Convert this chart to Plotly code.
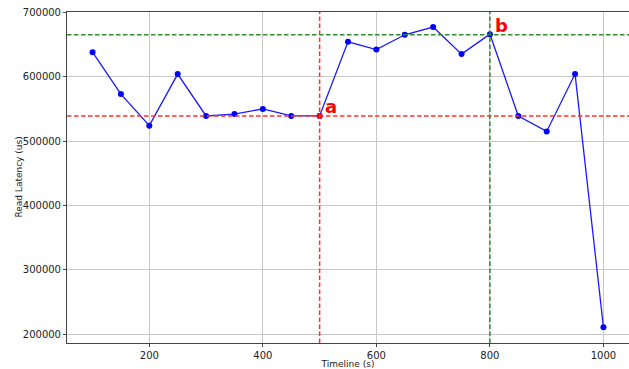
import plotly.graph_objects as go

timeline = [100, 150, 200, 250, 300, 350, 400, 450, 500, 550, 600, 650, 700, 750, 800, 850, 900, 950, 1000]
latency = [638000, 573000, 524000, 604000, 539000, 542000, 550000, 539000, 539000, 654000,
           642000, 665000, 677000, 635000, 666000, 539000, 515000, 604000, 211000]
point_a = (500, 539000)
point_b = (800, 665000)
x_ticks = [200, 400, 600, 800, 1000]
y_ticks = [200000, 300000, 400000, 500000, 600000, 700000]
y_tick_labels = ["200000", "300000", "400000", "500000", "600000", "700000"]

fig = go.Figure()
fig.add_trace(go.Scatter(x=timeline, y=latency, mode="lines+markers",
                         line=dict(color="#1a1aff", width=1.3),
                         marker=dict(color="#0000ff", size=6), showlegend=False))
fig.add_trace(go.Scatter(x=[point_a[0]], y=[point_a[1]], mode="markers",
                         marker=dict(color="#ff0000", size=6), showlegend=False))

dash = "4.5px,2.5px"
fig.add_hline(y=point_a[1], line=dict(color="#ff3030", width=1.4, dash=dash))
fig.add_vline(x=point_a[0], line=dict(color="#ff3030", width=1.5, dash=dash))
fig.add_hline(y=point_b[1], line=dict(color="#2e8b2e", width=1.4, dash=dash))
fig.add_vline(x=point_b[0], line=dict(color="#2e8b2e", width=1.5, dash=dash))

fig.add_annotation(x=point_a[0], y=point_a[1], text="<b>a</b>", showarrow=False,
                   xanchor="left", yanchor="bottom", xshift=3, yshift=-3,
                   font=dict(color="#ff0000", size=18, family="DejaVu Sans"))
fig.add_annotation(x=point_b[0], y=point_b[1], text="<b>b</b>", showarrow=False,
                   xanchor="left", yanchor="bottom", xshift=3, yshift=-3,
                   font=dict(color="#ff0000", size=18, family="DejaVu Sans"))
fig.add_annotation(xref="paper", yref="paper", x=-0.087, y=0.5, text="Read Latency (us)",
                   showarrow=False, textangle=-90, xanchor="center", yanchor="middle",
                   font=dict(size=9, color="#222222", family="DejaVu Sans"))

fig.update_layout(
    width=629, height=369,
    margin=dict(l=67, r=0, t=12, b=26, autoexpand=False),
    plot_bgcolor="white", paper_bgcolor="white",
    font=dict(family="DejaVu Sans", size=10, color="#222222"),
)
fig.update_xaxes(range=[55, 1045], tickvals=x_ticks, showgrid=True, gridcolor="#c8c8c8",
                 gridwidth=1, showline=True, linecolor="#444444", linewidth=1, mirror=True,
                 ticks="outside", ticklen=3, tickcolor="#444444", zeroline=False,
                 automargin=False,
                 title=dict(text="Timeline (s)", font=dict(size=9), standoff=0))
fig.update_yaxes(range=[186650, 700350], tickvals=y_ticks, ticktext=y_tick_labels,
                 showgrid=True, gridcolor="#c8c8c8",
                 gridwidth=1, showline=True, linecolor="#444444", linewidth=1, mirror=False,
                 ticks="outside", ticklen=3, tickcolor="#444444", zeroline=False,
                 automargin=False)

fig.write_html("out.html", config={"displayModeBar": False},
               post_script="document.body.style.margin='0';document.body.style.overflow='hidden';")
